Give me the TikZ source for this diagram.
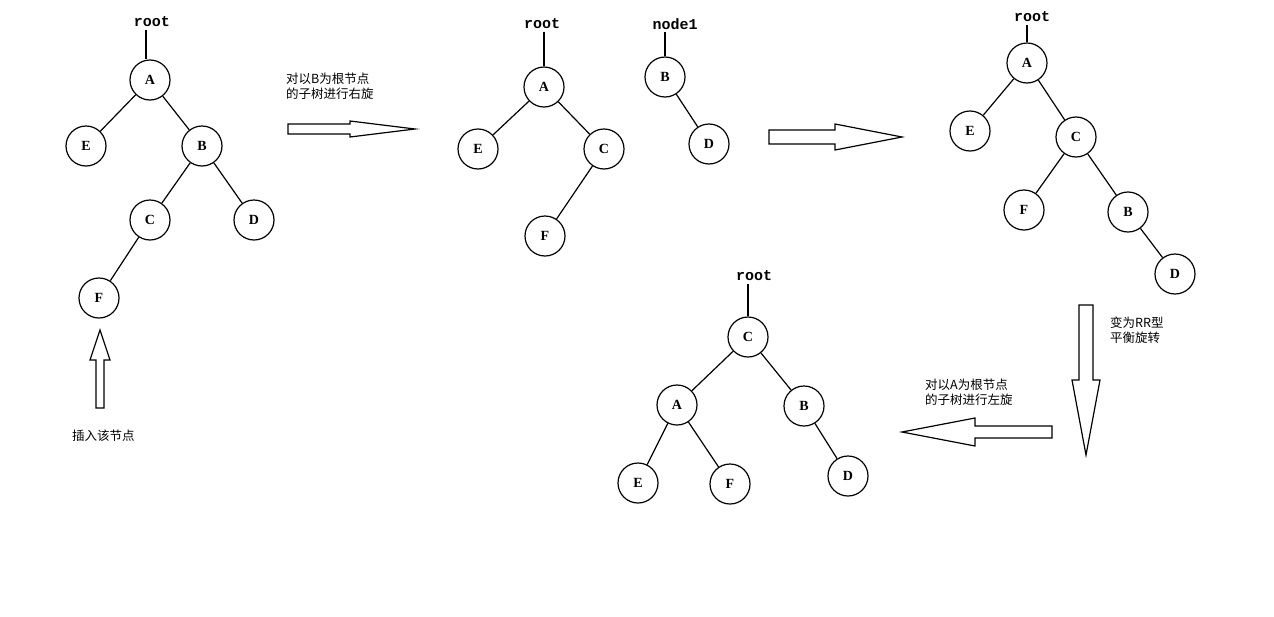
\documentclass[tikz,border=0pt]{standalone}
\usepackage{fontspec}
\setmainfont{Liberation Serif}
\newfontfamily\cjk{Noto Sans CJK SC}
\newfontfamily\mono{Liberation Mono}
\begin{document}
\begin{tikzpicture}[x=1pt,y=-1pt,
  nd/.style={circle,draw,line width=1.2pt,minimum size=40pt,inner sep=0pt,font=\bfseries\fontsize{14}{14}\selectfont},
  lbl/.style={font=\mono\bfseries\fontsize{15}{15}\selectfont,inner sep=0pt},
  cn/.style={font=\cjk\fontsize{12.5}{15}\selectfont,inner sep=0pt,anchor=west,align=left},
  ed/.style={line width=1.2pt},
  ha/.style={draw,line width=1.2pt,fill=white}]
\useasboundingbox (0,0) rectangle (1274,616);
% tree 1
\node[lbl] (r1) at (152,22) {root};
\node[nd] (a1) at (150,80) {A};
\node[nd] (e1) at (86,146) {E};
\node[nd] (b1) at (202,146) {B};
\node[nd] (c1) at (150,220) {C};
\node[nd] (d1) at (254,220) {D};
\node[nd] (f1) at (99,298) {F};
\draw[ed] (146,30) -- (a1.north-|146,0);
\draw[ed] (a1)--(e1) (a1)--(b1) (b1)--(c1) (b1)--(d1) (c1)--(f1);
\draw[ha] (96,408)--(96,360)--(90,360)--(100,330)--(110,360)--(104,360)--(104,408)--cycle;
\node[cn] (t1) at (72,436) {插入该节点};
% arrow 1
\node[cn] (t2) at (286,86) {对以B为根节点\\的子树进行右旋};
\draw[ha] (288,124)--(350,124)--(350,121)--(415,129)--(350,137)--(350,134)--(288,134)--cycle;
% tree 2
\node[lbl] (r2) at (542,24) {root};
\node[nd] (a2) at (544,87) {A};
\node[nd] (e2) at (478,149) {E};
\node[nd] (c2) at (604,149) {C};
\node[nd] (f2) at (545,236) {F};
\draw[ed] (544,32) -- (a2.north);
\draw[ed] (a2)--(e2) (a2)--(c2) (c2)--(f2);
\node[lbl] (n1) at (675,24) {node1};
\node[nd] (b2) at (665,77) {B};
\node[nd] (d2) at (709,144) {D};
\draw[ed] (665,32) -- (b2.north);
\draw[ed] (b2)--(d2);
% arrow 2
\draw[ha] (769,130)--(835,130)--(835,124)--(902,137)--(835,150)--(835,144)--(769,144)--cycle;
% tree 3
\node[lbl] (r3) at (1032,17) {root};
\node[nd] (a3) at (1027,63) {A};
\node[nd] (e3) at (970,131) {E};
\node[nd] (c3) at (1076,137) {C};
\node[nd] (f3) at (1024,210) {F};
\node[nd] (b3) at (1128,212) {B};
\node[nd] (d3) at (1175,274) {D};
\draw[ed] (1027,25) -- (a3.north);
\draw[ed] (a3)--(e3) (a3)--(c3) (c3)--(f3) (c3)--(b3) (b3)--(d3);
% arrow down
\draw[ha] (1079,305)--(1093,305)--(1093,380)--(1100,380)--(1086,455)--(1072,380)--(1079,380)--cycle;
\node[cn] (t3) at (1110,330) {变为RR型\\平衡旋转};
% arrow left
\node[cn] (t4) at (925,392) {对以A为根节点\\的子树进行左旋};
\draw[ha] (1052,426)--(975,426)--(975,418)--(902,432)--(975,446)--(975,438)--(1052,438)--cycle;
% tree 4
\node[lbl] (r4) at (754,276) {root};
\node[nd] (c4) at (748,337) {C};
\node[nd] (a4) at (677,405) {A};
\node[nd] (b4) at (804,406) {B};
\node[nd] (e4) at (638,483) {E};
\node[nd] (f4) at (730,484) {F};
\node[nd] (d4) at (848,476) {D};
\draw[ed] (748,284) -- (c4.north);
\draw[ed] (c4)--(a4) (c4)--(b4) (a4)--(e4) (a4)--(f4) (b4)--(d4);
\end{tikzpicture}
\end{document}
